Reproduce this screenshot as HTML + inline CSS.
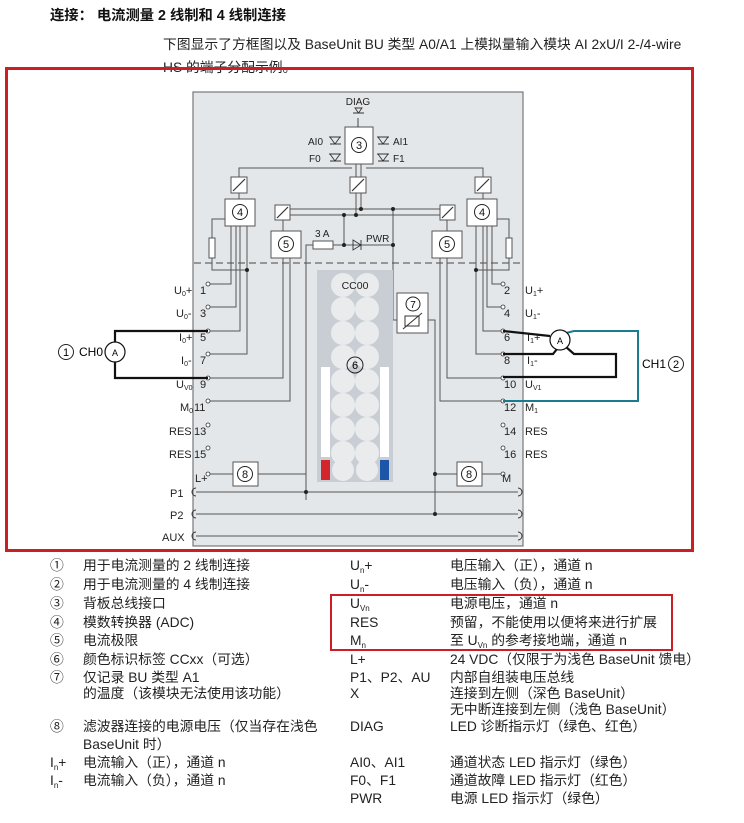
<!DOCTYPE html>
<html><head><meta charset="utf-8"><style>
body{margin:0;background:#fff;width:744px;height:823px;overflow:hidden;font-family:"Liberation Sans","Noto Sans CJK SC",sans-serif}
svg{position:absolute;left:0;top:0}
</style></head><body>
<svg width="744" height="823" viewBox="0 0 744 823" font-family="Liberation Sans, Noto Sans CJK SC, sans-serif">
<text x="50" y="20" font-size="14.3" font-weight="bold" fill="#111">连接： 电流测量 2 线制和 4 线制连接</text>
<text x="163" y="49" font-size="13.8" fill="#222">下图显示了方框图以及 BaseUnit BU 类型 A0/A1 上模拟量输入模块 AI 2xU/I 2-/4-wire</text>
<text x="163" y="72" font-size="13.8" fill="#222">HS 的端子分配示例。</text>

<rect x="193" y="92" width="330" height="454" fill="#e4e7ea" stroke="#777" stroke-width="1.2"/>
<line x1="194" y1="263" x2="523" y2="263" stroke="#666" stroke-width="1.3" stroke-dasharray="7,4"/>
<g stroke="#555" stroke-width="1" fill="none">
<polyline points="239,177 239,168 352,168"/><polyline points="483,177 483,168 366,168"/>
<line x1="356" y1="164" x2="356" y2="177"/><line x1="361" y1="164" x2="361" y2="177"/>
<line x1="356" y1="193" x2="356" y2="215"/><line x1="361" y1="193" x2="361" y2="209"/>
<line x1="239" y1="193" x2="239" y2="199"/><line x1="483" y1="193" x2="483" y2="199"/>
<line x1="290" y1="209" x2="440" y2="209"/><line x1="290" y1="215" x2="440" y2="215"/>
<line x1="344" y1="215" x2="344" y2="245"/><line x1="393" y1="209" x2="393" y2="320"/>
<polyline points="393,320 435,320 435,500"/>
<polyline points="306,500 306,245 313,245"/><line x1="333" y1="245" x2="393" y2="245"/>
<line x1="283" y1="220" x2="283" y2="231"/><line x1="447" y1="220" x2="447" y2="231"/>
<line x1="283" y1="258" x2="283" y2="290"/><line x1="290" y1="258" x2="290" y2="290"/>
<line x1="447" y1="258" x2="447" y2="290"/><line x1="440" y1="258" x2="440" y2="290"/>
<polyline points="231,226 231,284 210,284"/><polyline points="236,226 236,307 210,307"/>
<polyline points="240,226 240,331 210,331"/><polyline points="247,226 247,354 210,354"/>
<polyline points="240,219 212,219 212,238"/><polyline points="212,258 212,270 247,270"/>
<polyline points="283,290 283,378 210,378"/><polyline points="290,290 290,401 210,401"/>
<polyline points="492,226 492,284 503,284"/><polyline points="487,226 487,307 503,307"/>
<polyline points="483,226 483,331 503,331"/><polyline points="476,226 476,354 503,354"/>
<polyline points="483,219 509,219 509,238"/><polyline points="509,258 509,270 476,270"/>
<polyline points="447,290 447,378 503,378"/><polyline points="440,290 440,401 503,401"/>
<line x1="210" y1="474" x2="233" y2="474"/><line x1="258" y1="474" x2="306" y2="474"/>
<line x1="435" y1="474" x2="457" y2="474"/><line x1="482" y1="474" x2="503" y2="474"/>
<line x1="306" y1="474" x2="306" y2="492"/><line x1="435" y1="474" x2="435" y2="514"/>
<line x1="196" y1="492" x2="518" y2="492"/><line x1="196" y1="514" x2="518" y2="514"/><line x1="196" y1="536" x2="518" y2="536"/>
</g>
<g fill="#222"><circle cx="356" cy="215" r="2"/><circle cx="361" cy="209" r="2"/><circle cx="393" cy="209" r="2"/><circle cx="344" cy="215" r="2"/><circle cx="344" cy="245" r="2"/><circle cx="393" cy="245" r="2"/><circle cx="240" cy="219" r="2"/><circle cx="247" cy="270" r="2"/><circle cx="483" cy="219" r="2"/><circle cx="476" cy="270" r="2"/><circle cx="306" cy="492" r="2"/><circle cx="435" cy="514" r="2"/><circle cx="435" cy="474" r="2"/></g>
<g fill="#fff" stroke="#555" stroke-width="1">
<rect x="345" y="127" width="28" height="37"/>
<rect x="231" y="177" width="16" height="16"/><rect x="350" y="177" width="16" height="16"/><rect x="475" y="177" width="16" height="16"/>
<rect x="275" y="205" width="15" height="15"/><rect x="440" y="205" width="15" height="15"/>
<rect x="225" y="199" width="30" height="27"/><rect x="467" y="199" width="30" height="27"/>
<rect x="271" y="231" width="30" height="27"/><rect x="432" y="231" width="30" height="27"/>
<rect x="209" y="238" width="6" height="20"/><rect x="506" y="238" width="6" height="20"/>
<rect x="313" y="241" width="20" height="8"/>
<rect x="233" y="462" width="25" height="24"/><rect x="457" y="462" width="25" height="24"/>
</g>
<g stroke="#333" stroke-width="1.2"><line x1="233" y1="191" x2="245" y2="179"/><line x1="352" y1="191" x2="364" y2="179"/><line x1="477" y1="191" x2="489" y2="179"/><line x1="277" y1="218" x2="288" y2="207"/><line x1="442" y1="218" x2="453" y2="207"/></g>
<g fill="none" stroke="#222" stroke-width="1">
<circle cx="359" cy="145" r="7.5"/><circle cx="240" cy="212" r="7.5"/><circle cx="482" cy="212" r="7.5"/><circle cx="286" cy="244" r="7.5"/><circle cx="447" cy="244" r="7.5"/><circle cx="245" cy="474" r="7.5"/><circle cx="469" cy="474" r="7.5"/>
</g>
<g font-size="11" text-anchor="middle" fill="#111"><text x="359" y="149">3</text><text x="240" y="216">4</text><text x="482" y="216">4</text><text x="286" y="248">5</text><text x="447" y="248">5</text><text x="245" y="478">8</text><text x="469" y="478">8</text></g>
<g font-size="10" fill="#222"><text x="358" y="105" text-anchor="middle">DIAG</text><text x="308" y="145">AI0</text><text x="393" y="145">AI1</text><text x="309" y="162">F0</text><text x="393" y="162">F1</text><text x="315" y="237">3 A</text><text x="366" y="242">PWR</text></g>
<g fill="none" stroke="#333" stroke-width="0.9">
<path d="M353 113 L364 113 M355 108 L362 108 L358.5 113 Z M358 118 L358 127"/>
<path d="M329 137 L341 137 M330 137 L335 144 L340 137 M330 144 L341 144"/><path d="M329 154 L341 154 M330 154 L335 161 L340 154 M330 161 L341 161"/>
<path d="M377 137 L389 137 M378 137 L383 144 L388 137 M378 144 L389 144"/><path d="M377 154 L389 154 M378 154 L383 161 L388 154 M378 161 L389 161"/>
<path d="M353 240 L361 245 L353 250 Z M361 240 L361 250"/>
</g>
<rect x="317" y="270" width="76" height="212" fill="#c9ced4"/>
<g fill="#e9ebed">
<circle cx="343" cy="285" r="12"/><circle cx="367" cy="285" r="12"/><circle cx="343" cy="309" r="12"/><circle cx="367" cy="309" r="12"/>
<circle cx="343" cy="333" r="12"/><circle cx="367" cy="333" r="12"/><circle cx="343" cy="357" r="12"/><circle cx="367" cy="357" r="12"/>
<circle cx="343" cy="381" r="12"/><circle cx="367" cy="381" r="12"/><circle cx="343" cy="405" r="12"/><circle cx="367" cy="405" r="12"/>
<circle cx="343" cy="429" r="12"/><circle cx="367" cy="429" r="12"/><circle cx="343" cy="453" r="12"/><circle cx="367" cy="453" r="12"/>
<circle cx="343" cy="470" r="11"/><circle cx="367" cy="470" r="11"/>
</g>
<g fill="#fff"><rect x="321" y="367" width="9" height="90"/><rect x="380" y="367" width="9" height="90"/></g>
<rect x="321" y="460" width="9" height="20" fill="#d3262c"/><rect x="380" y="460" width="9" height="20" fill="#1d56a8"/>
<text x="355" y="289" font-size="10.5" text-anchor="middle" fill="#222">CC00</text>
<circle cx="355" cy="365" r="8" fill="none" stroke="#222"/><text x="355" y="369" font-size="11" text-anchor="middle">6</text>
<rect x="397" y="293" width="31" height="40" fill="#fff" stroke="#555"/>
<circle cx="413" cy="304" r="7" fill="none" stroke="#222"/><text x="413" y="308" font-size="10" text-anchor="middle">7</text>
<rect x="405" y="316" width="14" height="10" fill="none" stroke="#333"/><line x1="403" y1="329" x2="422" y2="313" stroke="#333"/>
<g fill="#fff" stroke="#333" stroke-width="0.8">
<circle cx="208" cy="284" r="2"/><circle cx="208" cy="307" r="2"/><circle cx="208" cy="331" r="2"/><circle cx="208" cy="354" r="2"/><circle cx="208" cy="378" r="2"/><circle cx="208" cy="401" r="2"/><circle cx="208" cy="425" r="2"/><circle cx="208" cy="448" r="2"/><circle cx="208" cy="474" r="2"/>
<circle cx="503" cy="284" r="2"/><circle cx="503" cy="307" r="2"/><circle cx="503" cy="331" r="2"/><circle cx="503" cy="354" r="2"/><circle cx="503" cy="378" r="2"/><circle cx="503" cy="401" r="2"/><circle cx="503" cy="425" r="2"/><circle cx="503" cy="448" r="2"/><circle cx="503" cy="474" r="2"/>
</g>
<g font-size="11" fill="#222">
<text x="174" y="294">U<tspan font-size="7" dy="2">0</tspan><tspan dy="-2">+</tspan></text><text x="200" y="294">1</text>
<text x="176" y="317">U<tspan font-size="7" dy="2">0</tspan><tspan dy="-2">-</tspan></text><text x="200" y="317">3</text>
<text x="179" y="341">I<tspan font-size="7" dy="2">0</tspan><tspan dy="-2">+</tspan></text><text x="200" y="341">5</text>
<text x="181" y="364">I<tspan font-size="7" dy="2">0</tspan><tspan dy="-2">-</tspan></text><text x="200" y="364">7</text>
<text x="176" y="388">U<tspan font-size="7" dy="2">V0</tspan></text><text x="200" y="388">9</text>
<text x="180" y="411">M<tspan font-size="7" dy="2">0</tspan></text><text x="194" y="411">11</text>
<text x="169" y="435">RES</text><text x="194" y="435">13</text>
<text x="169" y="458">RES</text><text x="194" y="458">15</text>
<text x="195" y="482">L+</text>
<text x="170" y="497">P1</text><text x="170" y="519">P2</text><text x="162" y="541">AUX</text>
<text x="504" y="294">2</text><text x="525" y="294">U<tspan font-size="7" dy="2">1</tspan><tspan dy="-2">+</tspan></text>
<text x="504" y="317">4</text><text x="525" y="317">U<tspan font-size="7" dy="2">1</tspan><tspan dy="-2">-</tspan></text>
<text x="504" y="341">6</text><text x="527" y="341">I<tspan font-size="7" dy="2">1</tspan><tspan dy="-2">+</tspan></text>
<text x="504" y="364">8</text><text x="527" y="364">I<tspan font-size="7" dy="2">1</tspan><tspan dy="-2">-</tspan></text>
<text x="504" y="388">10</text><text x="525" y="388">U<tspan font-size="7" dy="2">V1</tspan></text>
<text x="504" y="411">12</text><text x="525" y="411">M<tspan font-size="7" dy="2">1</tspan></text>
<text x="504" y="435">14</text><text x="525" y="435">RES</text>
<text x="504" y="458">16</text><text x="525" y="458">RES</text>
<text x="502" y="482">M</text>
</g>
<g fill="none" stroke="#333" stroke-width="1"><path d="M196 488 a4 4 0 0 0 0 8"/><path d="M196 510 a4 4 0 0 0 0 8"/><path d="M196 532 a4 4 0 0 0 0 8"/>
<path d="M518 488 a4 4 0 0 1 0 8"/><path d="M518 510 a4 4 0 0 1 0 8"/><path d="M518 532 a4 4 0 0 1 0 8"/></g>
<g fill="none" stroke="#111" stroke-width="2.2"><polyline points="115,342 115,331 208,331"/><polyline points="115,362 115,378 208,378"/>
<polyline points="503,331 550,336"/><polyline points="503,354 553,354 557,349"/><polyline points="566,347 574,354 616,354 616,377 503,377"/></g>
<polyline points="566,333 574,331 638,331 638,401 503,401" fill="none" stroke="#1a7b8e" stroke-width="2"/>
<circle cx="115" cy="352" r="10" fill="#fff" stroke="#111" stroke-width="1.2"/><text x="115" y="356" font-size="9" text-anchor="middle">A</text>
<circle cx="560" cy="340" r="10" fill="#fff" stroke="#111" stroke-width="1.2"/><text x="560" y="344" font-size="9" text-anchor="middle">A</text>
<circle cx="66" cy="352" r="7.5" fill="none" stroke="#222"/><text x="66" y="356" font-size="11" text-anchor="middle">1</text>
<text x="79" y="356" font-size="12">CH0</text>
<text x="642" y="368" font-size="12">CH1</text><circle cx="676" cy="364" r="7.5" fill="none" stroke="#222"/><text x="676" y="368" font-size="11" text-anchor="middle">2</text>
<rect x="6.5" y="68.5" width="686" height="482" fill="none" stroke="#cc1f24" stroke-width="3"/>
<rect x="331" y="595" width="341" height="55" fill="none" stroke="#cc1f24" stroke-width="2"/>
<g font-size="13.8" fill="#222">
<text x="50" y="570">①</text><text x="83" y="570">用于电流测量的 2 线制连接</text>
<text x="50" y="589">②</text><text x="83" y="589">用于电流测量的 4 线制连接</text>
<text x="50" y="608">③</text><text x="83" y="608">背板总线接口</text>
<text x="50" y="627">④</text><text x="83" y="627">模数转换器 (ADC)</text>
<text x="50" y="645">⑤</text><text x="83" y="645">电流极限</text>
<text x="50" y="664">⑥</text><text x="83" y="664">颜色标识标签 CCxx（可选）</text>
<text x="50" y="682">⑦</text><text x="83" y="682">仅记录 BU 类型 A1</text>
<text x="83" y="698">的温度（该模块无法使用该功能）</text>
<text x="50" y="731">⑧</text><text x="83" y="731">滤波器连接的电源电压（仅当存在浅色</text>
<text x="83" y="749">BaseUnit 时）</text>
<text x="50" y="767">I<tspan font-size="8" dy="3">n</tspan><tspan dy="-3">+</tspan></text><text x="83" y="767">电流输入（正），通道 n</text>
<text x="50" y="785">I<tspan font-size="8" dy="3">n</tspan><tspan dy="-3">-</tspan></text><text x="83" y="785">电流输入（负），通道 n</text>
<text x="350" y="570">U<tspan font-size="8" dy="3">n</tspan><tspan dy="-3">+</tspan></text><text x="450" y="570">电压输入（正），通道 n</text>
<text x="350" y="589">U<tspan font-size="8" dy="3">n</tspan><tspan dy="-3">-</tspan></text><text x="450" y="589">电压输入（负），通道 n</text>
<text x="350" y="608">U<tspan font-size="8" dy="3">Vn</tspan></text><text x="450" y="608">电源电压，通道 n</text>
<text x="350" y="627">RES</text><text x="450" y="627">预留，不能使用以便将来进行扩展</text>
<text x="350" y="645">M<tspan font-size="8" dy="3">n</tspan></text><text x="450" y="645">至 U<tspan font-size="8" dy="3">Vn</tspan><tspan dy="-3"> 的参考接地端，通道 n</tspan></text>
<text x="350" y="664">L+</text><text x="450" y="664">24 VDC（仅限于为浅色 BaseUnit 馈电）</text>
<text x="350" y="682">P1、P2、AU</text><text x="450" y="682">内部自组装电压总线</text>
<text x="350" y="698">X</text><text x="450" y="698">连接到左侧（深色 BaseUnit）</text>
<text x="450" y="714">无中断连接到左侧（浅色 BaseUnit）</text>
<text x="350" y="731">DIAG</text><text x="450" y="731">LED 诊断指示灯（绿色、红色）</text>
<text x="350" y="767">AI0、AI1</text><text x="450" y="767">通道状态 LED 指示灯（绿色）</text>
<text x="350" y="785">F0、F1</text><text x="450" y="785">通道故障 LED 指示灯（红色）</text>
<text x="350" y="803">PWR</text><text x="450" y="803">电源 LED 指示灯（绿色）</text>
</g>
</svg>
</body></html>
